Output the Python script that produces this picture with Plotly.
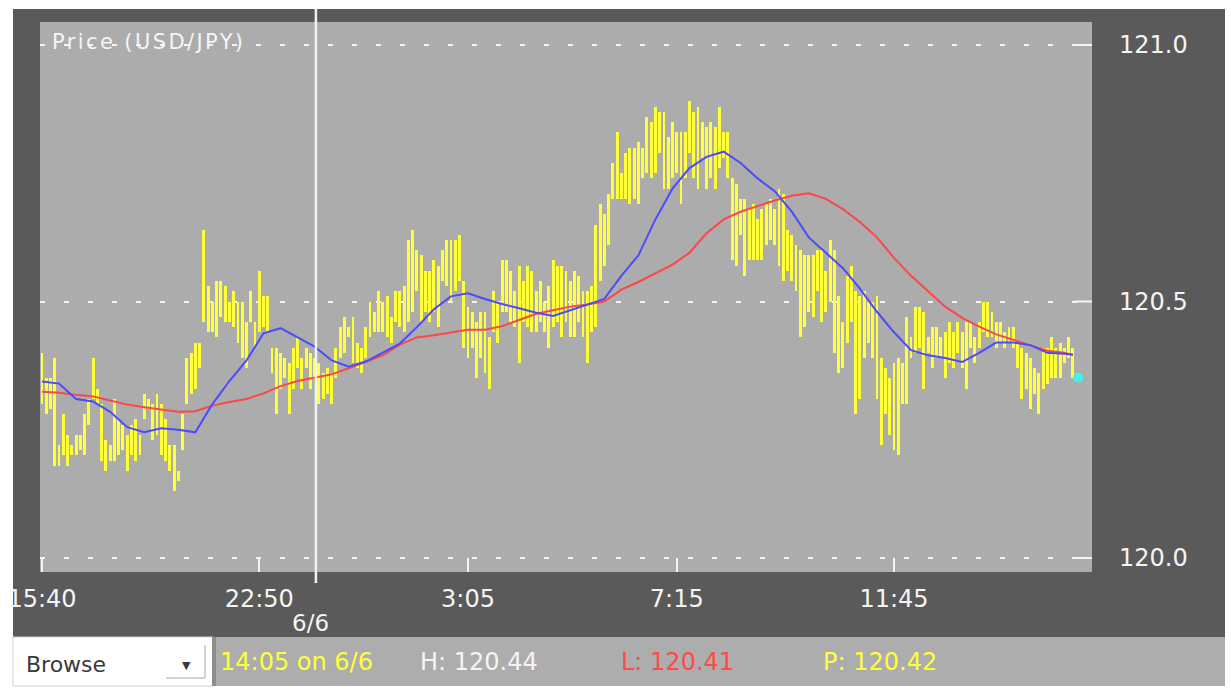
import plotly.graph_objects as go

# ---------------- data ----------------
bar_high = [
    120.40, 120.35, 120.35, 120.39, 120.22, 120.28, 120.24, 120.22, 120.24, 120.24,
    120.28, 120.31, 120.39, 120.33, 120.30, 120.23, 120.22, 120.31, 120.27, 120.26,
    120.24, 120.26, 120.27, 120.24, 120.32, 120.31, 120.30, 120.32, 120.30, 120.27,
    120.22, 120.22, 120.17, 120.28, 120.39, 120.40, 120.42, 120.42, 120.64, 120.53,
    120.50, 120.54, 120.54, 120.53, 120.50, 120.52, 120.50, 120.50, 120.46, 120.52,
    120.46, 120.56, 120.51, 120.51, 120.41, 120.41, 120.40, 120.39, 120.38, 120.41,
    120.43, 120.39, 120.41, 120.40, 120.39, 120.38, 120.36, 120.37, 120.36, 120.41,
    120.45, 120.47, 120.45, 120.47, 120.42, 120.41, 120.45, 120.50, 120.48, 120.52,
    120.50, 120.51, 120.47, 120.52, 120.52, 120.53, 120.62, 120.64, 120.60, 120.59,
    120.56, 120.56, 120.58, 120.57, 120.60, 120.62, 120.62, 120.62, 120.63, 120.54,
    120.49, 120.48, 120.46, 120.48, 120.48, 120.43, 120.52, 120.50, 120.58, 120.58,
    120.56, 120.52, 120.57, 120.54, 120.57, 120.56, 120.52, 120.54, 120.50, 120.53,
    120.58, 120.57, 120.57, 120.56, 120.54, 120.56, 120.55, 120.52, 120.52, 120.53,
    120.65, 120.69, 120.67, 120.71, 120.77, 120.83, 120.75, 120.79, 120.80, 120.80,
    120.81, 120.80, 120.86, 120.85, 120.88, 120.87, 120.87, 120.82, 120.85, 120.83,
    120.83, 120.83, 120.89, 120.87, 120.88, 120.85, 120.84, 120.85, 120.84, 120.88,
    120.83, 120.83, 120.74, 120.73, 120.70, 120.70, 120.68, 120.69, 120.66, 120.68,
    120.69, 120.70, 120.68, 120.72, 120.71, 120.64, 120.63, 120.61, 120.60, 120.59,
    120.59, 120.59, 120.60, 120.60, 120.56, 120.62, 120.60, 120.51, 120.46, 120.55,
    120.57, 120.52, 120.51, 120.52, 120.50, 120.50, 120.51, 120.39, 120.37, 120.35,
    120.38, 120.39, 120.38, 120.47, 120.43, 120.49, 120.49, 120.48, 120.43, 120.45,
    120.45, 120.43, 120.44, 120.46, 120.44, 120.46, 120.44, 120.46, 120.46, 120.43,
    120.46, 120.50, 120.50, 120.48, 120.46, 120.46, 120.44, 120.45, 120.45, 120.42,
    120.41, 120.40, 120.39, 120.37, 120.36, 120.41, 120.41, 120.43, 120.41, 120.42,
    120.41, 120.43, 120.41,
]
bar_low = [
    120.30, 120.28, 120.29, 120.18, 120.18, 120.20, 120.18, 120.20, 120.20, 120.21,
    120.20, 120.26, 120.31, 120.30, 120.19, 120.17, 120.19, 120.19, 120.20, 120.21,
    120.17, 120.20, 120.19, 120.20, 120.27, 120.29, 120.23, 120.24, 120.20, 120.19,
    120.17, 120.13, 120.15, 120.21, 120.30, 120.32, 120.33, 120.37, 120.46, 120.44,
    120.44, 120.43, 120.47, 120.46, 120.46, 120.45, 120.42, 120.39, 120.37, 120.46,
    120.41, 120.44, 120.45, 120.44, 120.36, 120.28, 120.33, 120.35, 120.28, 120.33,
    120.37, 120.33, 120.37, 120.33, 120.35, 120.30, 120.31, 120.32, 120.30, 120.35,
    120.39, 120.40, 120.43, 120.38, 120.37, 120.36, 120.39, 120.43, 120.44, 120.44,
    120.44, 120.43, 120.42, 120.46, 120.45, 120.44, 120.46, 120.48, 120.52, 120.46,
    120.48, 120.46, 120.48, 120.45, 120.54, 120.53, 120.50, 120.52, 120.54, 120.41,
    120.39, 120.41, 120.35, 120.39, 120.36, 120.33, 120.44, 120.42, 120.48, 120.48,
    120.46, 120.45, 120.38, 120.46, 120.45, 120.44, 120.44, 120.46, 120.44, 120.41,
    120.45, 120.46, 120.43, 120.46, 120.43, 120.43, 120.46, 120.43, 120.38, 120.44,
    120.45, 120.54, 120.57, 120.61, 120.70, 120.70, 120.70, 120.70, 120.69, 120.70,
    120.69, 120.74, 120.75, 120.74, 120.75, 120.79, 120.72, 120.72, 120.74, 120.75,
    120.69, 120.74, 120.79, 120.74, 120.72, 120.78, 120.72, 120.74, 120.72, 120.76,
    120.78, 120.74, 120.58, 120.57, 120.63, 120.55, 120.58, 120.58, 120.58, 120.58,
    120.61, 120.62, 120.61, 120.57, 120.54, 120.56, 120.54, 120.52, 120.43, 120.45,
    120.48, 120.47, 120.52, 120.46, 120.48, 120.50, 120.40, 120.36, 120.37, 120.42,
    120.46, 120.28, 120.31, 120.39, 120.42, 120.39, 120.31, 120.22, 120.28, 120.24,
    120.21, 120.20, 120.30, 120.30, 120.39, 120.40, 120.41, 120.33, 120.40, 120.37,
    120.39, 120.39, 120.35, 120.38, 120.37, 120.40, 120.37, 120.33, 120.41, 120.38,
    120.41, 120.44, 120.43, 120.43, 120.41, 120.42, 120.41, 120.42, 120.41, 120.37,
    120.31, 120.33, 120.29, 120.32, 120.28, 120.33, 120.34, 120.35, 120.35, 120.35,
    120.38, 120.39, 120.35,
]

ma_idx = [0, 4, 8, 12, 16, 20, 24, 28, 32, 36, 40, 44, 48, 52, 56, 60, 64, 68, 72, 76,
          80, 84, 88, 92, 96, 100, 104, 108, 112, 116, 120, 124, 128, 132, 136, 140,
          144, 148, 152, 156, 160, 164, 168, 172, 176, 180, 184, 188, 192, 196, 200,
          204, 208, 212, 216, 220, 224, 228, 232, 236, 240, 242]
ma_fast = [120.344, 120.340, 120.310, 120.305, 120.285, 120.255, 120.245, 120.253, 120.250,
           120.245, 120.300, 120.345, 120.385, 120.438, 120.448, 120.430, 120.412, 120.385,
           120.373, 120.383, 120.400, 120.418, 120.450, 120.485, 120.510, 120.516, 120.505,
           120.495, 120.487, 120.478, 120.472, 120.483, 120.493, 120.505, 120.550, 120.590,
           120.660, 120.720, 120.760, 120.782, 120.792, 120.770, 120.740, 120.715, 120.675,
           120.625, 120.595, 120.565, 120.525, 120.480, 120.440, 120.405, 120.395, 120.390,
           120.382, 120.400, 120.420, 120.420, 120.415, 120.400, 120.398, 120.396]
ma_slow = [120.324, 120.322, 120.318, 120.315, 120.307, 120.299, 120.294, 120.290, 120.285,
           120.286, 120.297, 120.304, 120.310, 120.321, 120.335, 120.345, 120.352, 120.358,
           120.370, 120.383, 120.395, 120.416, 120.430, 120.434, 120.440, 120.445, 120.445,
           120.452, 120.464, 120.476, 120.483, 120.490, 120.494, 120.500, 120.523, 120.538,
           120.555, 120.572, 120.595, 120.633, 120.660, 120.675, 120.686, 120.697, 120.706,
           120.711, 120.700, 120.680, 120.655, 120.625, 120.585, 120.550, 120.520, 120.490,
           120.468, 120.451, 120.436, 120.425, 120.414, 120.404, 120.400, 120.396]

tick_idx = [0, 51, 100, 149, 200]
tick_text = ["15:40", "22:50", "3:05", "7:15", "11:45"]
y_ticks = [120.0, 120.5, 121.0]
day_split = 64.3
day_label = "6/6"
last_idx = 243.2
last_price = 120.352
chart_title = "Price (USD/JPY)"
status_time = "14:05 on 6/6"
status_high = 120.44
status_low = 120.41
status_price = 120.42
mode_label = "Browse"

# ---------------- styling / layout ----------------
W, H = 1231, 696
PL, PR, PT, PB = 40, 1092, 22, 572  # plot area in pixels
FONT = "DejaVu Sans"
DARK = "#5a5a5a"
PLOT_BG = "#acacac"
YELLOW = "#ffff3a"
WHITE = "#f4f4f4"


def px(x):
    return (x - PL) / (PR - PL)


def py(y):
    return (PB - y) / (PB - PT)


idx = list(range(len(bar_high)))
fig = go.Figure()
fig.add_trace(go.Bar(
    x=idx, y=[h - l for h, l in zip(bar_high, bar_low)], base=bar_low,
    width=0.68, marker=dict(color=YELLOW, line=dict(width=0)), hoverinfo="skip"))
fig.add_trace(go.Scatter(x=ma_idx, y=ma_slow, mode="lines",
                         line=dict(color="#ff4646", width=2), hoverinfo="skip"))
fig.add_trace(go.Scatter(x=ma_idx, y=ma_fast, mode="lines",
                         line=dict(color="#4a4aff", width=2), hoverinfo="skip"))
fig.add_trace(go.Scatter(x=[last_idx], y=[last_price], mode="markers",
                         marker=dict(color="#40f0f0", size=10), hoverinfo="skip"))

shapes = [
    dict(type="rect", xref="paper", yref="paper", x0=px(13), x1=px(1225), y0=py(637), y1=py(9),
         fillcolor=DARK, line=dict(width=0), layer="below"),
    dict(type="rect", xref="paper", yref="paper", x0=0, x1=1, y0=0, y1=1,
         fillcolor=PLOT_BG, line=dict(width=0), layer="below"),
    dict(type="rect", xref="paper", yref="paper", x0=px(213), x1=px(1225), y0=py(686), y1=py(637),
         fillcolor="#adadad", line=dict(width=0), layer="below"),
    dict(type="rect", xref="paper", yref="paper", x0=px(13), x1=px(213), y0=py(686), y1=py(637),
         fillcolor="#ffffff", line=dict(color="#cfcfcf", width=1), layer="below"),
    dict(type="rect", xref="paper", yref="paper", x0=px(212), x1=px(216), y0=py(686), y1=py(637),
         fillcolor="#8c8c8c", line=dict(width=0), layer="below"),
    dict(type="line", xref="paper", yref="paper", x0=px(205), x1=px(205), y0=py(678), y1=py(645),
         line=dict(color="#c4c4c4", width=1.5)),
    dict(type="line", xref="paper", yref="paper", x0=px(166), x1=px(205), y0=py(678), y1=py(678),
         line=dict(color="#c4c4c4", width=1.5)),
    dict(type="line", xref="x", yref="paper", x0=day_split, x1=day_split, y0=py(583), y1=py(9),
         line=dict(color="#f2f2f2", width=2.5)),
]
for v in y_ticks:
    shapes.append(dict(type="line", xref="paper", yref="y", x0=px(1074), x1=1, y0=v, y1=v,
                       line=dict(color=WHITE, width=2)))

annotations = [
    dict(text=f'<span style="letter-spacing:2.4px">{chart_title}</span>', xref="paper",
         yref="paper", x=px(50), y=py(42), xanchor="left",
         yanchor="middle", showarrow=False, font=dict(family=FONT, size=21, color=WHITE)),
    dict(text=day_label, xref="x", yref="paper", x=day_split, xshift=-5, y=py(623),
         xanchor="center", yanchor="middle", showarrow=False,
         font=dict(family=FONT, size=23, color=WHITE)),
    dict(text=mode_label, xref="paper", yref="paper", x=px(24), y=py(664), xanchor="left",
         yanchor="middle", showarrow=False, font=dict(family=FONT, size=22, color="#3a3a3a")),
    dict(text="▼", xref="paper", yref="paper", x=px(186), y=py(665), xanchor="center",
         yanchor="middle", showarrow=False, font=dict(family=FONT, size=11, color="#3a3a3a")),
    dict(text=status_time, xref="paper", yref="paper", x=px(218), y=py(662), xanchor="left",
         yanchor="middle", showarrow=False, font=dict(family=FONT, size=24, color=YELLOW)),
    dict(text=f"H: {status_high:.2f}", xref="paper", yref="paper", x=px(418), y=py(662),
         xanchor="left", yanchor="middle", showarrow=False,
         font=dict(family=FONT, size=24, color=WHITE)),
    dict(text=f"L: {status_low:.2f}", xref="paper", yref="paper", x=px(619), y=py(662),
         xanchor="left", yanchor="middle", showarrow=False,
         font=dict(family=FONT, size=24, color="#ff4a4a")),
    dict(text=f"P: {status_price:.2f}", xref="paper", yref="paper", x=px(821), y=py(662),
         xanchor="left", yanchor="middle", showarrow=False,
         font=dict(family=FONT, size=24, color=YELLOW)),
]

x_per_px = 1 / 4.26
fig.update_layout(
    width=W, height=H, autosize=False,
    margin=dict(l=PL, r=W - PR, t=PT, b=H - PB, pad=0),
    paper_bgcolor="#ffffff", plot_bgcolor="rgba(0,0,0,0)",
    showlegend=False, bargap=0,
    shapes=shapes, annotations=annotations,
    xaxis=dict(range=[(PL - 42) * x_per_px, (PR - 42) * x_per_px],
               tickvals=tick_idx, ticktext=tick_text,
               ticks="inside", ticklen=14, tickwidth=2, tickcolor=WHITE,
               showgrid=False, zeroline=False, showline=False, automargin=False,
               ticklabelstandoff=10,
               tickfont=dict(family=FONT, size=24, color=WHITE), fixedrange=True),
    yaxis=dict(range=[120 - (PB - 558) / 513, 120 + (558 - PT) / 513], side="right",
               tickvals=y_ticks, tickformat=".1f", automargin=False,
               showgrid=True, gridcolor=WHITE, gridwidth=2, griddash="5px,19px",
               zeroline=False, showline=False, ticks="",
               ticklabelstandoff=26,
               tickfont=dict(family=FONT, size=24, color=WHITE), fixedrange=True),
)

fig.write_html(
    "out.html",
    config={"displayModeBar": False, "staticPlot": True},
    post_script="document.body.style.margin='0';document.body.style.overflow='hidden';",
)
